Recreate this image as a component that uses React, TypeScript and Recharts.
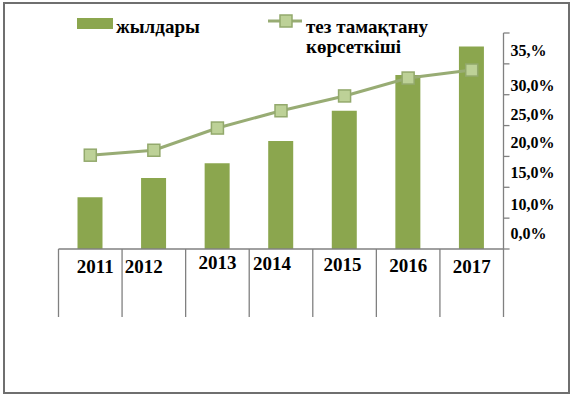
import React from 'react';
import { ComposedChart, Bar, Line, XAxis, YAxis, Legend } from 'recharts';

const YEARS = ['2011', '2012', '2013', '2014', '2015', '2016', '2017'];
const BAR_VALUES = [8.4, 11.5, 13.9, 17.5, 22.4, 28.2, 32.8];
const LINE_VALUES = [15.2, 16.0, 19.6, 22.4, 24.8, 27.7, 29.0];
const Y_TICKS = [0, 5, 10, 15, 20, 25, 30, 35];
// labels sit between the tick marks, one per interval
const Y_TICK_LABELS = ['0,0%', '10,0%', '15,0%', '20,0%', '25,0%', '30,0%', '35,%'];
const BAR_NAME = 'жылдары';
const LINE_NAME = 'тез тамақтану көрсеткіші';

const data = YEARS.map((year, i) => ({ year, bars: BAR_VALUES[i], line: LINE_VALUES[i] }));

const W = 573;
const H = 398;
const PLOT_LEFT = 58.5;
const PLOT_RIGHT = 503.5;
const PLOT_TOP = 33;
const PLOT_BOTTOM = 249;
const Y_AXIS_W = 60;
const X_AXIS_H = 68;
const HALF_BAND = (PLOT_RIGHT - PLOT_LEFT) / YEARS.length / 2;

const FONT = '"Liberation Serif", "Times New Roman", serif';
const BAR_COLOR = '#8ba64e';
const LINE_COLOR = '#98ac74';
const MARKER_FILL = '#bdd197';
const MARKER_STROKE = '#93a96c';
const AXIS_COLOR = '#808080';

// small hand nudges so the labels sit like in the original
const X_LABEL_NUDGE = [[5, 0], [-10, 0], [0, -4], [-9, -3], [-2, -2], [0, -1], [0, 0]];
const Y_LABEL_LIFT = [16, 14, 15, 14, 11, 9, 13];

function YearTick({ x, y, payload, index }: any) {
    const [dx, dy] = X_LABEL_NUDGE[index] ?? [0, 0];
    const last = index === YEARS.length - 1;
    return (
        <g>
            <line x1={x - HALF_BAND} y1={y} x2={x - HALF_BAND} y2={y + X_AXIS_H} stroke={AXIS_COLOR} strokeWidth={1.3} />
            {last && (
                <line x1={x + HALF_BAND} y1={y} x2={x + HALF_BAND} y2={y + X_AXIS_H} stroke={AXIS_COLOR} strokeWidth={1.3} />
            )}
            <text
                x={x + dx}
                y={y + 24 + dy}
                textAnchor="middle"
                fontFamily={FONT}
                fontWeight="bold"
                fontSize={19}
                fill="#000"
            >
                {payload.value}
            </text>
        </g>
    );
}

function PercentTick({ x, y, payload }: any) {
    const i = Y_TICKS.indexOf(payload.value);
    const label = Y_TICK_LABELS[i];
    if (!label) return null;
    return (
        <text x={x} y={y - Y_LABEL_LIFT[i]} dy="0.35em" textAnchor="start" fontFamily={FONT} fontWeight="bold" fontSize={16} fill="#000">
            {label}
        </text>
    );
}

function Square({ cx, cy, index }: any) {
    if (cx == null || cy == null) return null;
    return (
        <rect key={`sq-${index}`} x={cx - 6} y={cy - 6} width={12} height={12} fill={MARKER_FILL} stroke={MARKER_STROKE} strokeWidth={1.5} />
    );
}

function LegendBox({ payload }: any) {
    const items = payload ?? [];
    const bar = items.find((p: any) => p.dataKey === 'bars');
    const line = items.find((p: any) => p.dataKey === 'line');
    const txt = { fontFamily: FONT, fontWeight: 'bold' as const, fontSize: 19, fill: '#000' };
    const words = line ? String(line.value).split(' ') : [];
    return (
        <svg width={W} height={60} style={{ display: 'block' }}>
            {bar && (
                <g>
                    <rect x={77} y={18} width={36} height={11} fill={bar.color} />
                    <text x={116} y={33} {...txt}>{bar.value}</text>
                </g>
            )}
            {line && (
                <g>
                    <line x1={268} y1={21} x2={302} y2={21} stroke={LINE_COLOR} strokeWidth={3} />
                    <rect x={280} y={15} width={12} height={12} fill={MARKER_FILL} stroke={MARKER_STROKE} strokeWidth={1.5} />
                    <text x={306} y={33} {...txt}>{words.slice(0, 2).join(' ')}</text>
                    <text x={306} y={53} {...txt}>{words.slice(2).join(' ')}</text>
                </g>
            )}
        </svg>
    );
}

export default function App() {
    return (
        <div style={{ position: 'absolute', left: 0, top: 0, width: W, height: H, background: '#fff' }}>
            <div
                style={{
                    position: 'absolute',
                    left: 3,
                    top: 2,
                    width: 567,
                    height: 392,
                    border: '2px solid #6f6f6f',
                    boxSizing: 'border-box',
                }}
            />
            <ComposedChart
                width={W}
                height={H}
                data={data}
                margin={{
                    top: PLOT_TOP,
                    left: PLOT_LEFT,
                    right: W - PLOT_RIGHT - Y_AXIS_W,
                    bottom: H - PLOT_BOTTOM - X_AXIS_H,
                }}
            >
                <XAxis
                    dataKey="year"
                    height={X_AXIS_H}
                    axisLine={{ stroke: AXIS_COLOR, strokeWidth: 1.3 }}
                    tickLine={false}
                    tickSize={0}
                    tickMargin={0}
                    interval={0}
                    tick={<YearTick />}
                />
                <YAxis
                    orientation="right"
                    width={Y_AXIS_W}
                    domain={[0, 35]}
                    ticks={Y_TICKS}
                    interval={0}
                    axisLine={{ stroke: AXIS_COLOR, strokeWidth: 1.3 }}
                    tickLine={{ stroke: AXIS_COLOR, strokeWidth: 1.3 }}
                    tickSize={6}
                    tickMargin={1}
                    tick={<PercentTick />}
                />
                <Legend
                    verticalAlign="middle"
                    align="center"
                    layout="horizontal"
                    wrapperStyle={{ top: 0, left: 0, width: W, height: 60 }}
                    content={<LegendBox />}
                />
                <Bar dataKey="bars" name={BAR_NAME} fill={BAR_COLOR} barSize={25} isAnimationActive={false} />
                <Line
                    dataKey="line"
                    name={LINE_NAME}
                    stroke={LINE_COLOR}
                    strokeWidth={3}
                    dot={<Square />}
                    activeDot={false}
                    isAnimationActive={false}
                />
            </ComposedChart>
        </div>
    );
}
